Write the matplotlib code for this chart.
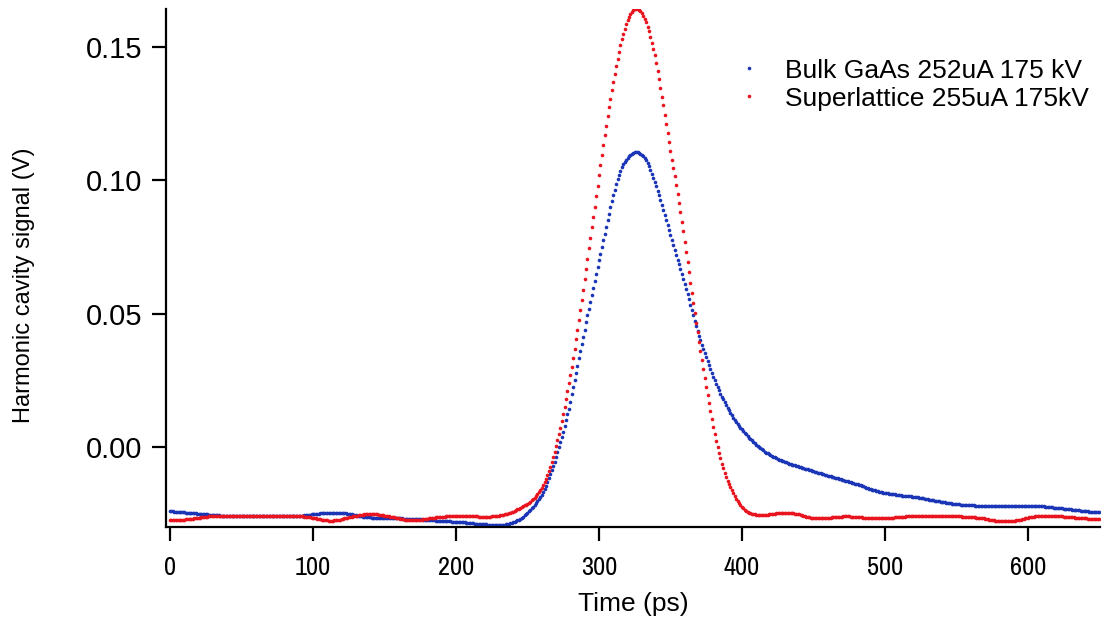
import numpy as np
import matplotlib.pyplot as plt
from matplotlib import font_manager

plt.rcParams['font.family'] = ['Liberation Sans', 'DejaVu Sans']

# harmonic cavity signal in mV, sampled every 1 ps starting at 0 ps
bulk_mv = [
    -24.0, -24.1, -24.1, -24.2, -24.2, -24.3, -24.3, -24.4, -24.4, -24.5,
    -24.5, -24.6, -24.6, -24.7, -24.7, -24.8, -24.8, -24.9, -24.9, -25.0,
    -25.0, -25.1, -25.1, -25.2, -25.2, -25.3, -25.3, -25.4, -25.4, -25.5,
    -25.5, -25.5, -25.6, -25.6, -25.6, -25.7, -25.7, -25.7, -25.8, -25.8,
    -25.8, -25.8, -25.9, -25.9, -25.9, -25.9, -25.9, -26.0, -26.0, -26.0,
    -26.0, -26.0, -26.0, -26.0, -26.0, -26.0, -26.0, -26.0, -26.0, -26.0,
    -26.0, -26.0, -26.0, -26.0, -26.0, -26.0, -26.0, -26.0, -26.0, -26.0,
    -26.0, -26.0, -26.0, -26.0, -26.0, -26.0, -26.0, -26.0, -26.0, -26.0,
    -26.0, -26.0, -26.0, -26.0, -25.9, -25.9, -25.9, -25.9, -25.9, -25.8,
    -25.8, -25.8, -25.7, -25.7, -25.6, -25.6, -25.5, -25.4, -25.4, -25.3,
    -25.2, -25.2, -25.1, -25.0, -25.0, -24.9, -24.9, -24.8, -24.8, -24.7,
    -24.7, -24.7, -24.6, -24.6, -24.6, -24.6, -24.6, -24.6, -24.6, -24.7,
    -24.7, -24.8, -24.8, -24.9, -25.0, -25.1, -25.2, -25.3, -25.4, -25.5,
    -25.6, -25.7, -25.8, -25.9, -26.0, -26.1, -26.2, -26.2, -26.3, -26.4,
    -26.4, -26.5, -26.5, -26.5, -26.6, -26.6, -26.6, -26.7, -26.7, -26.7,
    -26.7, -26.7, -26.7, -26.8, -26.8, -26.8, -26.8, -26.8, -26.8, -26.8,
    -26.8, -26.8, -26.8, -26.9, -26.9, -26.9, -26.9, -26.9, -26.9, -26.9,
    -26.9, -27.0, -27.0, -27.0, -27.1, -27.1, -27.1, -27.2, -27.2, -27.3,
    -27.3, -27.3, -27.4, -27.4, -27.5, -27.5, -27.6, -27.6, -27.7, -27.7,
    -27.7, -27.8, -27.8, -27.8, -27.9, -27.9, -27.9, -28.0, -28.0, -28.0,
    -28.0, -28.1, -28.1, -28.2, -28.2, -28.3, -28.3, -28.4, -28.4, -28.5,
    -28.5, -28.6, -28.6, -28.7, -28.7, -28.8, -28.8, -28.9, -28.9, -29.0,
    -29.0, -29.0, -29.1, -29.1, -29.1, -29.2, -29.2, -29.2, -29.2, -29.2,
    -29.2, -29.2, -29.2, -29.1, -29.1, -29.0, -28.9, -28.8, -28.6, -28.4,
    -28.2, -28.0, -27.8, -27.5, -27.2, -26.9, -26.5, -26.1, -25.6, -25.1,
    -24.6, -24.1, -23.6, -23.0, -22.4, -21.8, -21.1, -20.4, -19.6, -18.8,
    -17.9, -16.8, -15.7, -14.5, -13.2, -11.8, -10.3, -8.8, -7.2, -5.5,
    -3.8, -2.0, -0.1, 1.8, 3.8, 5.8, 7.9, 10.0, 12.2, 14.4,
    17.0, 19.7, 22.4, 25.1, 27.8, 30.5, 33.2, 35.9, 38.6, 41.3,
    44.0, 46.7, 49.3, 51.9, 54.5, 57.1, 59.7, 62.3, 64.9, 67.5,
    70.0, 72.5, 75.0, 77.5, 80.0, 82.5, 84.9, 87.3, 89.8, 92.1,
    94.3, 96.4, 98.4, 100.3, 102.0, 103.5, 104.8, 105.9, 106.9, 107.7,
    108.4, 109.0, 109.5, 109.9, 110.2, 110.4, 110.5, 110.4, 110.2, 109.9,
    109.5, 109.0, 108.3, 107.4, 106.4, 105.2, 103.9, 102.4, 100.9, 99.3,
    97.7, 96.0, 94.3, 92.5, 90.7, 88.9, 87.0, 85.1, 83.2, 81.3,
    79.4, 77.5, 75.6, 73.8, 72.0, 70.2, 68.4, 66.6, 64.8, 63.0,
    61.2, 59.3, 57.3, 55.3, 53.3, 51.3, 49.3, 47.3, 45.4, 43.5,
    41.7, 40.0, 38.3, 36.7, 35.1, 33.6, 32.1, 30.7, 29.3, 27.9,
    26.4, 25.0, 23.7, 22.4, 21.2, 20.0, 18.9, 17.8, 16.7, 15.7,
    14.7, 13.7, 12.8, 11.9, 11.0, 10.2, 9.4, 8.7, 8.0, 7.3,
    6.6, 5.9, 5.3, 4.7, 4.1, 3.5, 3.0, 2.5, 2.0, 1.5,
    0.9, 0.4, -0.1, -0.5, -0.9, -1.3, -1.7, -2.1, -2.4, -2.7,
    -3.0, -3.3, -3.6, -3.9, -4.2, -4.4, -4.7, -4.9, -5.2, -5.4,
    -5.6, -5.8, -6.0, -6.2, -6.4, -6.6, -6.8, -6.9, -7.1, -7.3,
    -7.4, -7.6, -7.8, -7.9, -8.1, -8.3, -8.4, -8.6, -8.8, -8.9,
    -9.1, -9.2, -9.4, -9.6, -9.7, -9.9, -10.1, -10.2, -10.4, -10.6,
    -10.7, -10.9, -11.0, -11.2, -11.4, -11.5, -11.7, -11.8, -12.0, -12.1,
    -12.3, -12.4, -12.6, -12.7, -12.9, -13.0, -13.2, -13.4, -13.5, -13.7,
    -13.9, -14.0, -14.2, -14.4, -14.6, -14.8, -15.0, -15.2, -15.4, -15.6,
    -15.8, -16.0, -16.2, -16.3, -16.5, -16.6, -16.8, -16.9, -17.0, -17.1,
    -17.2, -17.3, -17.4, -17.5, -17.6, -17.7, -17.8, -17.8, -17.9, -18.0,
    -18.0, -18.1, -18.2, -18.2, -18.3, -18.3, -18.4, -18.5, -18.5, -18.6,
    -18.7, -18.7, -18.8, -18.9, -19.0, -19.1, -19.2, -19.3, -19.4, -19.5,
    -19.6, -19.7, -19.8, -19.9, -20.0, -20.1, -20.2, -20.3, -20.4, -20.5,
    -20.6, -20.7, -20.8, -20.9, -21.0, -21.0, -21.1, -21.2, -21.3, -21.3,
    -21.4, -21.5, -21.5, -21.6, -21.6, -21.7, -21.7, -21.8, -21.8, -21.8,
    -21.9, -21.9, -21.9, -22.0, -22.0, -22.0, -22.0, -22.0, -22.1, -22.1,
    -22.1, -22.1, -22.1, -22.1, -22.1, -22.1, -22.1, -22.1, -22.1, -22.1,
    -22.1, -22.1, -22.1, -22.1, -22.1, -22.1, -22.1, -22.1, -22.1, -22.1,
    -22.1, -22.1, -22.1, -22.1, -22.1, -22.1, -22.1, -22.1, -22.1, -22.1,
    -22.1, -22.1, -22.1, -22.1, -22.1, -22.2, -22.2, -22.2, -22.2, -22.3,
    -22.3, -22.3, -22.4, -22.4, -22.5, -22.5, -22.6, -22.6, -22.7, -22.7,
    -22.8, -22.8, -22.9, -22.9, -23.0, -23.1, -23.1, -23.2, -23.3, -23.3,
    -23.4, -23.5, -23.5, -23.6, -23.7, -23.7, -23.8, -23.9, -23.9, -24.0,
    -24.0, -24.1, -24.1, -24.2, -24.2, -24.3, -24.3, -24.4, -24.4, -24.5, -24.5,
]

superlattice_mv = [
    -27.4, -27.4, -27.4, -27.4, -27.3, -27.3, -27.3, -27.3, -27.2, -27.2,
    -27.2, -27.1, -27.1, -27.0, -27.0, -26.9, -26.9, -26.8, -26.8, -26.7,
    -26.6, -26.5, -26.4, -26.3, -26.3, -26.2, -26.1, -26.0, -26.0, -25.9,
    -25.9, -25.9, -25.8, -25.8, -25.8, -25.8, -25.8, -25.8, -25.8, -25.8,
    -25.8, -25.8, -25.8, -25.8, -25.8, -25.9, -25.9, -25.9, -25.9, -25.9,
    -25.9, -25.9, -26.0, -26.0, -26.0, -26.0, -26.0, -26.0, -26.0, -26.0,
    -26.0, -26.0, -26.0, -26.0, -26.0, -26.0, -26.0, -26.0, -26.0, -26.0,
    -26.0, -26.0, -26.0, -26.0, -26.0, -26.0, -26.0, -26.0, -26.0, -26.0,
    -26.0, -26.0, -26.0, -25.9, -25.9, -25.9, -25.9, -25.9, -25.9, -25.9,
    -25.9, -25.9, -26.0, -26.0, -26.1, -26.1, -26.2, -26.3, -26.4, -26.5,
    -26.6, -26.7, -26.8, -26.9, -27.0, -27.1, -27.2, -27.3, -27.4, -27.5,
    -27.5, -27.6, -27.6, -27.6, -27.6, -27.5, -27.5, -27.4, -27.3, -27.2,
    -27.1, -27.0, -26.8, -26.7, -26.5, -26.4, -26.2, -26.1, -26.0, -25.9,
    -25.8, -25.7, -25.6, -25.5, -25.4, -25.4, -25.3, -25.3, -25.2, -25.2,
    -25.2, -25.2, -25.2, -25.2, -25.3, -25.3, -25.4, -25.4, -25.5, -25.6,
    -25.7, -25.8, -25.9, -26.0, -26.1, -26.2, -26.3, -26.4, -26.5, -26.7,
    -26.8, -26.9, -27.0, -27.1, -27.2, -27.2, -27.3, -27.3, -27.4, -27.4,
    -27.4, -27.4, -27.4, -27.3, -27.3, -27.2, -27.2, -27.1, -27.0, -27.0,
    -26.9, -26.8, -26.7, -26.7, -26.6, -26.5, -26.4, -26.3, -26.3, -26.2,
    -26.2, -26.1, -26.1, -26.0, -26.0, -26.0, -25.9, -25.9, -25.9, -25.9,
    -25.9, -25.9, -25.9, -25.9, -25.9, -25.9, -25.9, -25.9, -25.9, -26.0,
    -26.0, -26.0, -26.0, -26.0, -26.0, -26.0, -26.1, -26.1, -26.1, -26.1,
    -26.1, -26.1, -26.1, -26.1, -26.1, -26.0, -26.0, -25.9, -25.9, -25.8,
    -25.7, -25.6, -25.5, -25.4, -25.3, -25.1, -25.0, -24.8, -24.6, -24.4,
    -24.2, -24.0, -23.7, -23.4, -23.1, -22.8, -22.5, -22.2, -21.9, -21.6,
    -21.3, -20.9, -20.5, -20.0, -19.5, -19.0, -18.4, -17.7, -17.0, -16.2,
    -15.3, -14.3, -13.2, -11.9, -10.5, -9.0, -7.4, -5.6, -3.7, -1.7,
    0.4, 2.6, 4.9, 7.3, 9.8, 12.4, 15.1, 17.9, 20.8, 23.8,
    26.9, 30.1, 33.4, 36.8, 40.3, 43.9, 47.6, 51.3, 55.1, 58.9,
    62.8, 66.7, 70.6, 74.5, 78.4, 82.3, 86.2, 90.1, 94.0, 97.9,
    101.8, 105.6, 109.4, 113.1, 116.8, 120.4, 123.9, 127.3, 130.6, 133.8,
    136.9, 139.9, 142.8, 145.5, 148.1, 150.5, 152.8, 154.9, 156.8, 158.5,
    160.0, 161.3, 162.4, 163.2, 163.8, 164.1, 164.2, 164.1, 163.8, 163.3,
    162.6, 161.7, 160.6, 159.2, 157.6, 155.8, 153.8, 151.6, 149.3, 146.9,
    143.9, 140.9, 137.8, 134.6, 131.3, 128.0, 124.6, 121.2, 117.8, 114.3,
    110.8, 107.7, 104.6, 101.5, 98.3, 95.0, 91.6, 88.1, 84.5, 80.8,
    77.0, 73.2, 69.4, 65.5, 61.6, 57.7, 53.8, 50.2, 46.6, 43.0,
    39.5, 36.0, 32.6, 29.2, 25.9, 22.6, 19.4, 16.3, 13.3, 10.4,
    7.6, 4.9, 2.4, 0.0, -2.2, -4.3, -6.2, -8.0, -9.7, -11.2,
    -12.6, -13.9, -15.1, -16.2, -17.3, -18.4, -19.4, -20.3, -21.1, -21.8,
    -22.5, -23.0, -23.5, -23.9, -24.3, -24.6, -24.8, -25.0, -25.2, -25.3,
    -25.4, -25.5, -25.5, -25.5, -25.5, -25.5, -25.5, -25.4, -25.4, -25.3,
    -25.3, -25.2, -25.1, -25.0, -24.9, -24.9, -24.8, -24.8, -24.8, -24.8,
    -24.8, -24.8, -24.8, -24.8, -24.8, -24.9, -24.9, -25.0, -25.1, -25.2,
    -25.3, -25.5, -25.6, -25.8, -25.9, -26.1, -26.2, -26.3, -26.5, -26.6,
    -26.7, -26.7, -26.8, -26.8, -26.8, -26.8, -26.8, -26.7, -26.7, -26.6,
    -26.6, -26.5, -26.5, -26.4, -26.3, -26.3, -26.2, -26.2, -26.1, -26.1,
    -26.1, -26.0, -26.0, -26.0, -26.0, -26.0, -26.1, -26.1, -26.1, -26.2,
    -26.2, -26.3, -26.3, -26.4, -26.4, -26.5, -26.5, -26.6, -26.6, -26.7,
    -26.7, -26.7, -26.8, -26.8, -26.8, -26.8, -26.8, -26.8, -26.8, -26.8,
    -26.7, -26.7, -26.7, -26.6, -26.6, -26.5, -26.5, -26.4, -26.4, -26.3,
    -26.3, -26.2, -26.2, -26.1, -26.1, -26.0, -26.0, -26.0, -25.9, -25.9,
    -25.9, -25.9, -25.9, -25.8, -25.8, -25.8, -25.8, -25.8, -25.8, -25.8,
    -25.8, -25.8, -25.8, -25.8, -25.8, -25.8, -25.8, -25.8, -25.8, -25.8,
    -25.8, -25.8, -25.8, -25.8, -25.8, -25.9, -25.9, -25.9, -25.9, -25.9,
    -26.0, -26.0, -26.0, -26.0, -26.1, -26.1, -26.1, -26.1, -26.2, -26.2,
    -26.3, -26.3, -26.4, -26.4, -26.5, -26.5, -26.6, -26.7, -26.7, -26.8,
    -26.9, -27.0, -27.1, -27.2, -27.3, -27.4, -27.5, -27.6, -27.6, -27.7,
    -27.8, -27.8, -27.8, -27.9, -27.9, -27.9, -27.9, -27.9, -27.8, -27.8,
    -27.7, -27.6, -27.5, -27.4, -27.3, -27.2, -27.0, -26.9, -26.8, -26.6,
    -26.5, -26.4, -26.3, -26.2, -26.1, -26.0, -25.9, -25.9, -25.8, -25.8,
    -25.8, -25.7, -25.7, -25.7, -25.7, -25.7, -25.7, -25.7, -25.8, -25.8,
    -25.8, -25.9, -25.9, -26.0, -26.0, -26.1, -26.1, -26.2, -26.2, -26.3,
    -26.3, -26.4, -26.4, -26.5, -26.5, -26.6, -26.6, -26.7, -26.7, -26.8,
    -26.8, -26.8, -26.9, -26.9, -26.9, -27.0, -27.0, -27.0, -27.1, -27.1, -27.1,
]

labels = ['Bulk GaAs 252uA 175 kV', 'Superlattice 255uA 175kV']
colors = ['#1a35b5', '#e8141e']

t_bulk = np.arange(len(bulk_mv))
t_sl = np.arange(len(superlattice_mv))

# a condensed face for the x tick labels, if one is installed
narrow = None
for f in font_manager.fontManager.ttflist:
    if ('Narrow' in f.name or 'Condensed' in f.name) and narrow is None:
        narrow = f.name
xtick_kw = dict(family=[narrow, 'Liberation Sans'], size=19) if narrow else \
    dict(family=['Liberation Sans'], size=16)

fig = plt.figure(figsize=(11.04, 6.28), dpi=100)
ax = fig.add_axes([0.1504, 0.1608, 0.8460, 0.8250])

ax.plot(t_bulk, np.array(bulk_mv) / 1000, 'o', ms=2.6, mew=0,
        color=colors[0], label=labels[0])
ax.plot(t_sl, np.array(superlattice_mv) / 1000, 'o', ms=2.6, mew=0,
        color=colors[1], label=labels[1])

ax.set_xlim(-2.8, 650.5)
ax.set_ylim(-0.030, 0.1642)
ax.set_xticks(np.arange(0, 700, 100))
ax.set_yticks([0.00, 0.05, 0.10, 0.15])
ax.yaxis.set_major_formatter(plt.FormatStrFormatter('%.2f'))

for side in ['top', 'right']:
    ax.spines[side].set_visible(False)
for side in ['left', 'bottom']:
    ax.spines[side].set_linewidth(1.6)
ax.tick_params(direction='out', length=10, width=1.6)
ax.tick_params(axis='y', labelsize=21, pad=7)
ax.tick_params(axis='x', pad=11)
for lab in ax.get_xticklabels():
    lab.set_family(xtick_kw['family'])
    lab.set_fontsize(xtick_kw['size'])

ax.set_xlabel('Time (ps)', fontsize=19, labelpad=9)
ax.set_ylabel('Harmonic cavity signal (V)', fontsize=17)
ax.yaxis.set_label_coords(-0.140, 0.467)

leg = ax.legend(loc='upper left', bbox_to_anchor=(0.582, 0.95), frameon=False,
                fontsize=19, handlelength=1.2, handletextpad=0.75,
                labelspacing=0.15, markerscale=1.0)

fig.savefig('out.png', dpi=100)
